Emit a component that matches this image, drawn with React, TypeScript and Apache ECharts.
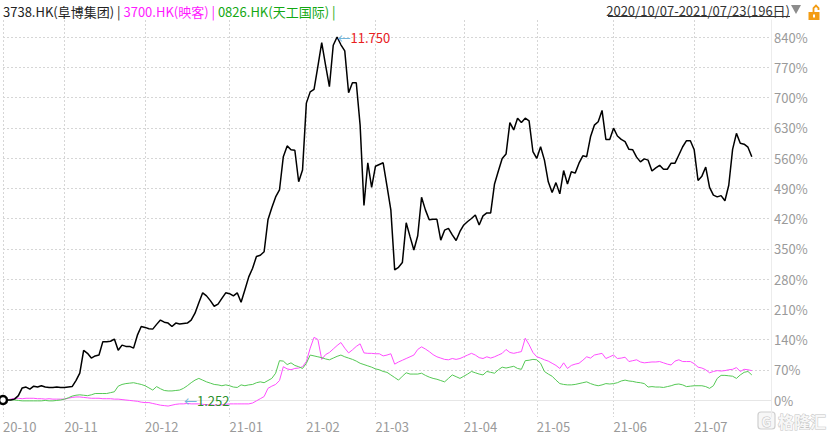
import React, { useEffect, useRef } from "react";
import * as echarts from "echarts";

// ---------- data ----------
const monthLabels = ["20-10", "20-11", "20-12", "21-01", "21-02", "21-03", "21-04", "21-05", "21-06", "21-07"];
const tradingDaysPerMonth = [16, 21, 22, 20, 18, 23, 19, 20, 21, 16];
const emptySlotsAtEnd = 5;

// % change since 2020/10/07
const s3738 = [
  0, 0, 0, 2, 10, 28, 30, 25, 32, 30, 33, 30, 29, 29, 30, 29, 29, 30, 31, 45,
  62, 115, 108, 97, 102, 104, 135, 135, 136, 141, 115, 127, 124, 124, 120, 150, 170, 168, 165, 164,
  175, 185, 180, 178, 170, 178, 176, 177, 178, 185, 201, 225, 248, 241, 230, 217, 222, 235, 248, 246,
  241, 248, 226, 255, 285, 305, 332, 335, 343, 417, 445, 470, 486, 563, 588, 579, 578, 505, 532, 687,
  713, 719, 772, 827, 775, 725, 821, 840, 822, 808, 711, 734, 734, 636, 450, 549, 492, 541, 545, 549,
  495, 440, 301, 307, 318, 410, 378, 347, 380, 469, 440, 417, 418, 418, 370, 393, 397, 382, 369, 390,
  405, 413, 420, 428, 405, 426, 433, 433, 500, 530, 559, 569, 642, 625, 652, 642, 652, 646, 575, 559,
  586, 555, 505, 480, 503, 477, 531, 500, 528, 525, 548, 565, 563, 609, 636, 644, 670, 603, 603, 629,
  611, 603, 598, 580, 579, 562, 551, 558, 555, 530, 537, 543, 534, 534, 548, 548, 567, 586, 600, 600,
  579, 508, 518, 539, 492, 474, 470, 473, 461, 497, 580, 617, 594, 592, 585, 563,
];
const s3700 = [
  0, 0, 2, 4, 4, 3, 4, 4, 4, 3, 3, 2, 3, 2, 2, 2, 2, 4, 6, 7,
  7, 6, 5, 4, 4, 4, 3, 3, 3, 2, 2, 1, 0, -1, -2, -3, -5, -6, -6, -8,
  -10, -12, -13, -14, -12, -10, -9, -9, -8, -9, -9, -9, -10, -11, -11, -12, -12, -11, -10, -9,
  -9, -9, -9, -9, -9, -7, -2, 3, 8, 27, 32, 36, 45, 77, 72, 70, 73, 74, 77, 89,
  120, 145, 140, 94, 105, 110, 118, 126, 133, 120, 109, 116, 124, 130, 109, 108, 108, 107, 107, 102,
  104, 107, 83, 88, 92, 96, 100, 104, 117, 123, 118, 112, 105, 100, 97, 94, 93, 96, 94, 96,
  100, 104, 108, 104, 98, 96, 100, 97, 100, 104, 108, 117, 110, 108, 110, 112, 143, 128, 110, 100,
  97, 93, 90, 85, 80, 73, 86, 73, 80, 83, 85, 92, 100, 97, 104, 106, 108, 96, 100, 104,
  96, 97, 99, 89, 91, 93, 88, 86, 87, 88, 88, 89, 86, 83, 81, 90, 93, 89, 89, 89,
  84, 76, 74, 70, 63, 66, 68, 67, 68, 70, 71, 75, 66, 71, 70, 68,
];
const s0826 = [
  0, 0, 0, 0, -1, -2, -2, -2, -2, -2, -2, -1, -2, -2, -1, 0, 2, 5, 9, 11,
  12, 11, 10, 12, 15, 15, 15, 15, 17, 19, 32, 36, 38, 39, 40, 38, 36, 33, 28, 23,
  31, 26, 22, 21, 21, 22, 23, 27, 33, 40, 46, 50, 46, 42, 39, 36, 35, 33, 35, 33,
  30, 29, 35, 33, 35, 36, 40, 42, 40, 45, 50, 62, 91, 90, 82, 86, 80, 77, 73, 85,
  104, 102, 100, 98, 95, 93, 97, 101, 104, 100, 97, 94, 90, 85, 82, 79, 76, 72, 70, 66,
  64, 58, 52, 46, 55, 63, 60, 60, 60, 62, 57, 53, 50, 48, 45, 42, 50, 58, 54, 50,
  55, 60, 66, 63, 60, 58, 66, 64, 62, 70, 76, 74, 76, 78, 73, 71, 91, 92, 94, 93,
  85, 66, 60, 55, 46, 38, 36, 35, 35, 36, 38, 40, 42, 38, 35, 33, 35, 38, 37, 38,
  40, 44, 46, 44, 43, 41, 40, 38, 30, 31, 30, 30, 29, 31, 33, 36, 37, 35, 31, 32,
  33, 33, 33, 31, 27, 33, 50, 57, 57, 56, 55, 50, 58, 64, 66, 58,
];

const peakPriceLabel = "11.750";
const lowPriceLabel = "1.252";
const lowMarkIndex = 47;
const lowMarkValue = 0;

const titleParts = ["3738.HK(阜博集团) | ", "3700.HK(映客) | ", "0826.HK(天工国际) |"];
const dateRangeLabel = "2020/10/07-2021/07/23(196日)";
const watermarkLabel = "格隆汇";

// ---------- helpers ----------
const categories: string[] = [];
monthLabels.forEach((m, k) => {
  for (let d = 0; d < tradingDaysPerMonth[k]; d++) categories.push(`${m}:${d + 1}`);
});
for (let p = 0; p < emptySlotsAtEnd; p++) categories.push(`end${p}`);

const isMonthStart = (_i: number, v: string) => typeof v === "string" && v.endsWith(":1");

const FONT = "'Noto Sans CJK SC', 'Noto Sans', sans-serif";
const GRID_LEFT = 3;
const GRID_RIGHT = 60;

// data grid spans y 20..417, label grid y 37..400 (0..840%)
const pxPerUnit = 363 / 840;
const dataMin = -17 / pxPerUnit;
const dataMax = 840 + 17 / pxPerUnit;

export default function App() {
  const ref = useRef<HTMLDivElement>(null);
  useEffect(() => {
    if (!ref.current) return;
    const chart = echarts.init(ref.current, undefined, { renderer: "svg" });
    const option: any = {
      animation: false,
      backgroundColor: "#ffffff",
      textStyle: { fontFamily: FONT },
      grid: [
        { left: GRID_LEFT, right: GRID_RIGHT, top: 20, bottom: 20 },
        { left: GRID_LEFT, right: GRID_RIGHT, top: 37, bottom: 37 },
      ],
      xAxis: [
        {
          type: "category",
          gridIndex: 0,
          data: categories,
          boundaryGap: false,
          axisLine: { show: true, lineStyle: { color: "#e6e6e6", width: 1 } },
          axisTick: { show: false },
          axisLabel: {
            interval: isMonthStart,
            formatter: (v: string) => v.split(":")[0],
            align: "left",
            color: "#9a9a9a",
            fontSize: 13,
            fontFamily: FONT,
            margin: 3,
          },
          splitLine: {
            show: true,
            interval: isMonthStart,
            lineStyle: { color: "#d6d6d6", type: [2, 2], width: 1 },
          },
        },
        { type: "value", gridIndex: 1, show: false, min: 0, max: 1 },
      ],
      yAxis: [
        {
          type: "value",
          gridIndex: 0,
          position: "right",
          min: dataMin,
          max: dataMax,
          axisLine: { show: true, lineStyle: { color: "#ececec" } },
          axisTick: { show: false },
          axisLabel: { show: false },
          splitLine: { show: false },
        },
        {
          type: "value",
          gridIndex: 1,
          position: "right",
          min: 0,
          max: 840,
          interval: 70,
          axisLine: { show: false },
          axisTick: { show: false },
          axisLabel: {
            formatter: "{value}%",
            color: "#9a9a9a",
            fontSize: 13,
            fontFamily: FONT,
            margin: 3,
          },
          splitLine: { show: true, lineStyle: { color: "#d6d6d6", type: [2, 2], width: 1 } },
        },
      ],
      series: [
        {
          name: "3700.HK",
          type: "line",
          xAxisIndex: 0,
          yAxisIndex: 0,
          data: s3700,
          showSymbol: false,
          lineStyle: { color: "#ff4dff", width: 1 },
          itemStyle: { color: "#ff4dff" },
          markPoint: {
            symbol: "circle",
            symbolSize: 1,
            itemStyle: { color: "rgba(0,0,0,0)" },
            label: {
              show: true,
              position: "right",
              distance: 0,
              formatter: `{a|←}{b|${lowPriceLabel}}`,
              rich: {
                a: { color: "#72b6dc", fontSize: 13, fontFamily: FONT },
                b: { color: "#2a8f2a", fontSize: 13, fontFamily: FONT },
              },
            },
            data: [{ coord: [lowMarkIndex, lowMarkValue] }],
          },
        },
        {
          name: "0826.HK",
          type: "line",
          xAxisIndex: 0,
          yAxisIndex: 0,
          data: s0826,
          showSymbol: false,
          lineStyle: { color: "#55c855", width: 1 },
          itemStyle: { color: "#55c855" },
        },
        {
          name: "3738.HK",
          type: "line",
          xAxisIndex: 0,
          yAxisIndex: 0,
          data: s3738,
          showSymbol: false,
          lineStyle: { color: "#000000", width: 1.5 },
          itemStyle: { color: "#000000" },
          markPoint: {
            data: [
              {
                type: "max",
                symbol: "circle",
                symbolSize: 1,
                itemStyle: { color: "rgba(0,0,0,0)" },
                label: {
                  show: true,
                  position: "right",
                  distance: 0,
                  formatter: `{a|←}{b|${peakPriceLabel}}`,
                  rich: {
                    a: { color: "#72b6dc", fontSize: 13, fontFamily: FONT },
                    b: { color: "#e8201e", fontSize: 13, fontFamily: FONT },
                  },
                },
              },
              {
                coord: [0, 0],
                symbol: "circle",
                symbolSize: 8,
                itemStyle: { color: "#ffffff", borderColor: "#000000", borderWidth: 2.5 },
                label: { show: false },
              },
            ],
          },
        },
      ],
      graphic: {
        elements: [
          {
            type: "text",
            x: 3,
            y: 11,
            style: {
              text: `{a|${titleParts[0]}}{b|${titleParts[1]}}{c|${titleParts[2]}}`,
              verticalAlign: "middle",
              rich: {
                a: { fill: "#222222", fontSize: 13, fontFamily: FONT },
                b: { fill: "#ff1aff", fontSize: 13, fontFamily: FONT },
                c: { fill: "#13a813", fontSize: 13, fontFamily: FONT },
              },
            },
          },
          {
            type: "text",
            x: 790,
            y: 10,
            style: {
              text: dateRangeLabel,
              align: "right",
              verticalAlign: "middle",
              fill: "#333333",
              fontSize: 13,
              fontFamily: FONT,
            },
          },
          {
            type: "line",
            shape: { x1: 608, y1: 16.5, x2: 790, y2: 16.5 },
            style: { stroke: "#333333", lineWidth: 1 },
          },
          {
            type: "polygon",
            shape: { points: [[791, 5], [801, 5], [796, 14]] },
            style: { fill: "#8c8c8c" },
          },
          {
            type: "group",
            right: 10,
            top: 3,
            children: [
              {
                type: "polyline",
                shape: { points: [[5, 7], [5, 3], [7.5, 0.5], [10, 3], [10, 5]] },
                style: { stroke: "#f39c12", lineWidth: 1.8, fill: null },
              },
              {
                type: "rect",
                shape: { x: 0, y: 7, width: 11, height: 8 },
                style: { fill: "#f39c12" },
              },
              {
                type: "rect",
                shape: { x: 4.5, y: 9.5, width: 2, height: 3 },
                style: { fill: "#ffffff" },
              },
            ],
          },
          {
            type: "rect",
            shape: { x: 758, y: 412, width: 17, height: 17, r: 3 },
            style: { fill: "#f7f7f7", stroke: "#cfcfcf", lineWidth: 1.2 },
          },
          {
            type: "text",
            x: 766.5,
            y: 421,
            style: {
              text: "G",
              align: "center",
              verticalAlign: "middle",
              fill: "#f7f7f7",
              stroke: "#c4c4c4",
              lineWidth: 1,
              fontSize: 13,
              fontWeight: "bold",
              fontFamily: FONT,
            },
          },
          {
            type: "text",
            x: 778,
            y: 421,
            style: {
              text: watermarkLabel,
              verticalAlign: "middle",
              fill: "#f7f7f7",
              stroke: "#c4c4c4",
              lineWidth: 1,
              fontSize: 16,
              fontWeight: "bold",
              fontFamily: FONT,
            },
          },
        ],
      },
    };
    chart.setOption(option);
    return () => chart.dispose();
  }, []);
  return (
    <div
      ref={ref}
      style={{ position: "fixed", left: 0, top: 0, width: 831, height: 437, background: "#fff" }}
    />
  );
}
